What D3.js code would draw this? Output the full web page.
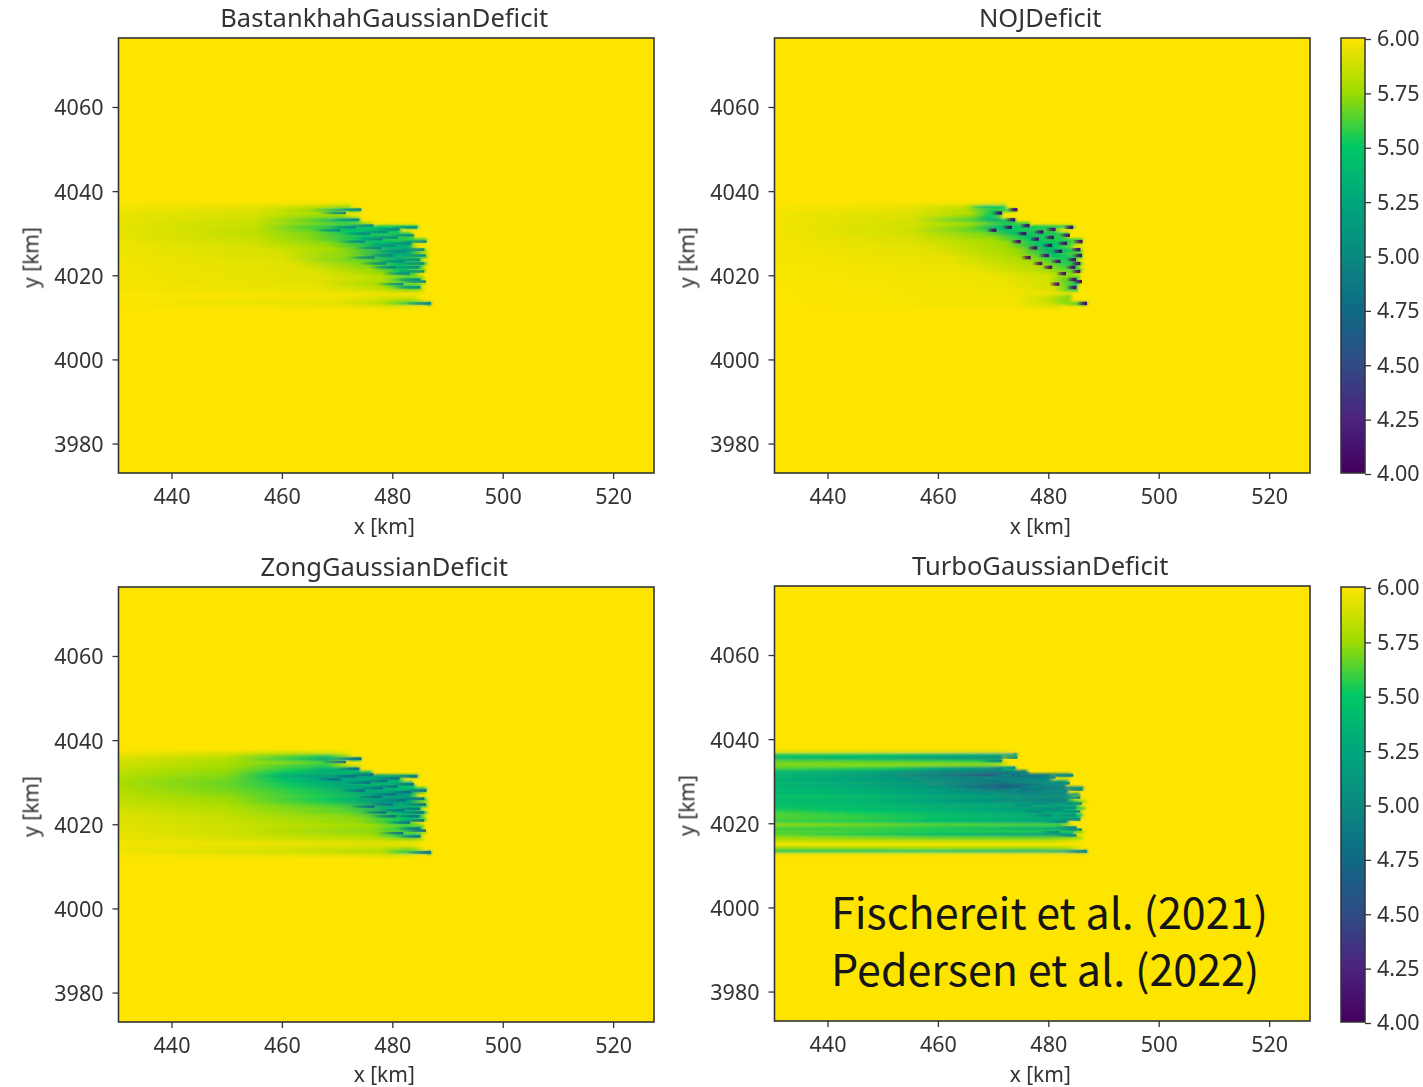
<!DOCTYPE html>
<html>
<head>
<meta charset="utf-8">
<script src="https://d3js.org/d3.v7.min.js"></script>
<style>
  html, body { margin: 0; padding: 0; background: #fff; }
  svg { display: block; }
</style>
</head>
<body>
<svg id="chart" width="1423" height="1087"></svg>
<script>
// ticks
const xTicks = [440, 460, 480, 500, 520];
const yTicks = [3980, 4000, 4020, 4040, 4060];
const colorbarTicks = [4, 4.25, 4.5, 4.75, 5, 5.25, 5.5, 5.75, 6];
const xLimits = [430.4, 527.4];
const yLimits = [3973, 4076.4];

// speed -> colour
const speedStops = [4, 4.25, 4.5, 4.75, 5, 5.25, 5.5, 5.75, 6];
const speedColors = ['#44005f', '#4b2480', '#2f4c85', '#0e6a85', '#0a8a80', '#00a67c', '#00c864', '#a0dc00', '#fde500'];

const panelTitles = ['BastankhahGaussianDeficit', 'NOJDeficit', 'ZongGaussianDeficit', 'TurboGaussianDeficit'];
const noteLines = ['Fischereit et al. (2021)', 'Pedersen et al. (2022)'];

// turbine tips shared by all four panels [x km, y km]
const turbines = [
  [474.4, 4035.6], [471.6, 4034.8], [474, 4033.2], [476.6, 4031.8], [484.5, 4031.4],
  [481.3, 4030.9], [473.4, 4031.4], [470.6, 4030.7], [479.1, 4030.3], [476, 4029.9], [483.9, 4029.5],
  [481, 4029], [478.3, 4028.6], [486.2, 4028], [475, 4028], [483.4, 4027.6], [480.7, 4027.1],
  [478, 4026.5], [482.5, 4025.7], [485.8, 4026.1], [480.1, 4024.7], [486.1, 4024.7], [476.8, 4024.2],
  [485, 4023.7], [482.2, 4023.3], [478.9, 4022.8], [485.8, 4022.8], [484.9, 4021.9], [480.7, 4021.9],
  [485.8, 4020.9], [483.2, 4020.4], [485.1, 4019], [486.1, 4018.5], [482, 4017.9], [485.1, 4017.1],
  [487, 4013.3]
];
// speed at the tip and length of the dark streak per panel
const tipSpeeds = [5, 4.05, 4.8, 5];
const tipLengths = [5, 1.8, 4.5, 4];

// wake rows: [y km, x km, speed, x km, speed, ...]
const bastankhahRows = [
  [4037.1, 430, 5.99, 460, 5.98, 472, 5.95, 474, 6],
  [4036.3, 430, 5.97, 455, 5.94, 466, 5.85, 472, 5.75, 473, 6],
  [4035.5, 430, 5.96, 455, 5.92, 465, 5.75, 470, 5.4, 474, 5.6, 474.6, 6],
  [4034.7, 430, 5.95, 455, 5.9, 465, 5.8, 470, 5.75, 472, 6],
  [4033.9, 430, 5.95, 455, 5.88, 466, 5.72, 471, 5.7, 474, 5.9, 474.5, 6],
  [4033.1, 430, 5.95, 455, 5.87, 465, 5.65, 470, 5.35, 474, 5.5, 474.5, 6],
  [4032.3, 430, 5.94, 455, 5.85, 465, 5.7, 472, 5.6, 476, 5.8, 477, 6],
  [4031.5, 430, 5.94, 455, 5.84, 465, 5.6, 472, 5.4, 478, 5.5, 484.5, 5.5, 485, 6],
  [4030.7, 430, 5.94, 455, 5.83, 465, 5.65, 472, 5.45, 481, 5.45, 482, 6],
  [4029.9, 430, 5.94, 455, 5.83, 465, 5.7, 473, 5.45, 483, 5.55, 484, 6],
  [4029.1, 430, 5.95, 455, 5.84, 465, 5.7, 475, 5.4, 483.5, 5.6, 484.5, 6],
  [4028.4, 430, 5.95, 455, 5.86, 465, 5.72, 475, 5.45, 486, 5.6, 486.5, 6],
  [4027.6, 430, 5.96, 455, 5.88, 468, 5.72, 477, 5.4, 483.5, 5.4, 484, 5.9, 486, 5.95, 487, 6],
  [4026.8, 430, 5.96, 455, 5.89, 468, 5.75, 478, 5.4, 483, 5.3, 484, 5.8, 485, 6],
  [4026, 430, 5.96, 458, 5.9, 470, 5.75, 480, 5.3, 483, 5.25, 486, 5.7, 486.5, 6],
  [4025.2, 430, 5.96, 460, 5.9, 472, 5.7, 480, 5.25, 483, 5.3, 486, 5.85, 487, 6],
  [4024.4, 430, 5.96, 460, 5.9, 472, 5.7, 480, 5.3, 486, 5.6, 486.7, 6],
  [4023.6, 430, 5.97, 460, 5.92, 474, 5.65, 481, 5.35, 485, 5.55, 485.7, 6],
  [4022.8, 430, 5.97, 462, 5.92, 475, 5.7, 481, 5.4, 486, 5.6, 486.7, 6],
  [4022, 430, 5.97, 462, 5.93, 476, 5.7, 481, 5.4, 485.3, 5.55, 486, 6],
  [4021.2, 430, 5.97, 465, 5.92, 476, 5.75, 482, 5.4, 484, 5.6, 486, 5.75, 486.5, 6],
  [4020.4, 430, 5.97, 466, 5.92, 478, 5.75, 482, 5.45, 484, 5.6, 485, 5.95, 486, 6],
  [4019.6, 430, 5.98, 468, 5.92, 478, 5.8, 483, 5.65, 485.5, 5.75, 486, 6],
  [4018.8, 430, 5.97, 466, 5.93, 478, 5.8, 483, 5.5, 485.3, 5.6, 486, 6],
  [4018, 430, 5.98, 466, 5.93, 478, 5.75, 484, 5.7, 486, 5.85, 486.5, 6],
  [4017.3, 430, 5.98, 466, 5.94, 478, 5.8, 482, 5.5, 485, 5.55, 485.5, 6],
  [4016.5, 430, 5.98, 466, 5.95, 478, 5.85, 484, 5.7, 485.7, 5.85, 486, 6],
  [4015.7, 430, 5.99, 470, 5.97, 480, 5.95, 485, 5.97, 486, 6],
  [4014.9, 430, 6, 470, 5.97, 480, 5.92, 484, 5.92, 485, 6],
  [4014.1, 430, 5.99, 470, 5.95, 478, 5.85, 483, 5.75, 485, 5.85, 486, 6],
  [4013.3, 430, 5.99, 470, 5.93, 478, 5.82, 482, 5.6, 487, 5.35, 487.3, 6],
  [4012.5, 430, 6, 470, 5.97, 480, 5.93, 484, 5.97, 486, 6]
];
const nojRows = [
  [4037.1, 430, 6, 460, 5.98, 467, 5.95, 472, 5.9, 473, 6],
  [4036.3, 430, 5.99, 455, 5.95, 465, 5.85, 468, 5.5, 472, 5.5, 472.6, 6],
  [4035.5, 430, 5.98, 455, 5.93, 465, 5.8, 470, 5.55, 474, 5.6, 474.5, 6],
  [4034.7, 430, 5.97, 455, 5.92, 466, 5.8, 470, 5.5, 471.5, 5.3, 472, 6],
  [4033.9, 430, 5.97, 455, 5.9, 466, 5.7, 469, 5.5, 471, 5.6, 472, 6],
  [4033.1, 430, 5.97, 455, 5.9, 466, 5.6, 470, 5.3, 474, 5.55, 474.5, 6],
  [4032.3, 430, 5.97, 455, 5.88, 466, 5.75, 472, 5.55, 476.5, 5.6, 477, 6],
  [4031.5, 430, 5.97, 455, 5.88, 465, 5.7, 470, 5.4, 476, 5.5, 484.5, 5.55, 485, 6],
  [4030.7, 430, 5.97, 455, 5.87, 466, 5.65, 472, 5.45, 481, 5.6, 482, 5.85, 483, 6],
  [4029.9, 430, 5.97, 455, 5.88, 468, 5.7, 474, 5.4, 483.5, 5.55, 484, 6],
  [4029.1, 430, 5.97, 455, 5.9, 470, 5.7, 476, 5.45, 482, 5.55, 483.5, 5.7, 484, 6],
  [4028.4, 430, 5.98, 455, 5.9, 470, 5.75, 477, 5.5, 486, 5.6, 486.5, 6],
  [4027.6, 430, 5.98, 455, 5.92, 472, 5.75, 478, 5.45, 483, 5.5, 486, 5.8, 486.5, 6],
  [4026.8, 430, 5.98, 458, 5.92, 472, 5.75, 479, 5.4, 481, 5.5, 484, 5.65, 485, 6],
  [4026, 430, 5.98, 458, 5.93, 474, 5.75, 480, 5.35, 483, 5.45, 486, 5.6, 486.3, 6],
  [4025.2, 430, 5.98, 460, 5.93, 474, 5.75, 481, 5.4, 484, 5.6, 486, 5.65, 486.5, 6],
  [4024.4, 430, 5.98, 462, 5.94, 476, 5.75, 481, 5.45, 486, 5.55, 486.5, 6],
  [4023.6, 430, 5.98, 462, 5.94, 476, 5.78, 482, 5.55, 485, 5.55, 485.5, 6],
  [4022.8, 430, 5.99, 462, 5.95, 478, 5.78, 483, 5.55, 486, 5.6, 486.5, 6],
  [4022, 430, 5.99, 465, 5.95, 478, 5.8, 483, 5.6, 485.3, 5.55, 486, 6],
  [4021.2, 430, 5.99, 465, 5.95, 478, 5.82, 484, 5.65, 486, 5.65, 486.5, 6],
  [4020.4, 430, 5.99, 468, 5.96, 480, 5.85, 484, 5.7, 486, 6],
  [4019.6, 430, 5.99, 470, 5.96, 480, 5.88, 483, 5.7, 485.5, 5.65, 486, 6],
  [4018.8, 430, 5.99, 470, 5.96, 480, 5.88, 483, 5.65, 485.3, 5.6, 486, 6],
  [4018, 430, 6, 472, 5.96, 481, 5.88, 484, 5.6, 485.5, 5.5, 485.8, 6],
  [4017.3, 430, 6, 472, 5.96, 481, 5.88, 484, 5.6, 485, 5.45, 485.5, 6],
  [4016.5, 430, 6, 474, 5.96, 481, 5.9, 484, 5.6, 485.3, 5.55, 485.5, 6],
  [4015.7, 430, 6, 474, 5.97, 480, 5.95, 484, 5.92, 485, 6],
  [4014.9, 430, 6, 474, 5.97, 480, 5.88, 484, 5.7, 484.5, 6],
  [4014.1, 430, 6, 474, 5.97, 480, 5.85, 483, 5.7, 484, 5.75, 484.5, 6],
  [4013.3, 430, 6, 474, 5.97, 480, 5.88, 484, 5.7, 487, 5.4, 487.3, 6],
  [4012.5, 430, 6, 474, 5.98, 480, 5.93, 482, 5.93, 483, 6]
];
const zongRows = [
  [4037.1, 430, 5.98, 450, 5.93, 462, 5.88, 470, 5.92, 473, 6],
  [4036.3, 430, 5.93, 450, 5.85, 462, 5.65, 468, 5.55, 472, 5.8, 473, 6],
  [4035.5, 430, 5.9, 450, 5.8, 462, 5.55, 467, 5.3, 471, 5.2, 474.4, 5.4, 474.6, 6],
  [4034.7, 430, 5.88, 450, 5.78, 462, 5.7, 468, 5.6, 471, 5.85, 472, 6],
  [4033.9, 430, 5.87, 450, 5.76, 462, 5.6, 468, 5.55, 472, 5.8, 474, 5.9, 474.5, 6],
  [4033.1, 430, 5.85, 450, 5.74, 462, 5.55, 468, 5.3, 474, 5.3, 474.4, 6],
  [4032.3, 430, 5.82, 450, 5.72, 460, 5.5, 468, 5.35, 476, 5.4, 476.8, 6],
  [4031.5, 430, 5.8, 450, 5.7, 458, 5.4, 464, 5.2, 472, 5.1, 476, 5.15, 484.5, 5.4, 485, 6],
  [4030.7, 430, 5.78, 450, 5.68, 460, 5.45, 468, 5.25, 481, 5.3, 482, 5.8, 483, 6],
  [4029.9, 430, 5.78, 450, 5.66, 462, 5.45, 470, 5.25, 483.5, 5.4, 484, 6],
  [4029.1, 430, 5.79, 450, 5.66, 462, 5.5, 472, 5.2, 484, 5.5, 484.5, 6],
  [4028.4, 430, 5.8, 450, 5.68, 462, 5.55, 474, 5.25, 486, 5.45, 486.5, 6],
  [4027.6, 430, 5.8, 450, 5.7, 464, 5.55, 476, 5.25, 483.5, 5.25, 486, 5.75, 486.5, 6],
  [4026.8, 430, 5.82, 450, 5.72, 466, 5.55, 478, 5.2, 483, 5.15, 484, 5.6, 485, 6],
  [4026, 430, 5.83, 450, 5.74, 468, 5.5, 478, 5.15, 483, 5.15, 486, 5.55, 486.5, 6],
  [4025.2, 430, 5.84, 450, 5.76, 468, 5.55, 478, 5.1, 483, 5.25, 486, 5.75, 487, 6],
  [4024.4, 430, 5.86, 450, 5.78, 470, 5.6, 480, 5.25, 486, 5.5, 486.7, 6],
  [4023.6, 430, 5.88, 450, 5.8, 470, 5.65, 480, 5.25, 485, 5.5, 485.7, 6],
  [4022.8, 430, 5.9, 450, 5.82, 472, 5.65, 482, 5.3, 486, 5.55, 486.7, 6],
  [4022, 430, 5.91, 450, 5.84, 472, 5.7, 482, 5.35, 485.3, 5.5, 486, 6],
  [4021.2, 430, 5.92, 450, 5.85, 474, 5.72, 482, 5.5, 484, 5.45, 486, 5.65, 486.5, 6],
  [4020.4, 430, 5.92, 450, 5.86, 474, 5.73, 482, 5.5, 485, 5.9, 486, 6],
  [4019.6, 430, 5.93, 450, 5.87, 476, 5.75, 483, 5.6, 485.5, 5.65, 486, 6],
  [4018.8, 430, 5.93, 450, 5.87, 476, 5.72, 483, 5.5, 485.3, 5.55, 486, 6],
  [4018, 430, 5.94, 450, 5.88, 476, 5.72, 484, 5.65, 486, 5.8, 486.5, 6],
  [4017.3, 430, 5.94, 450, 5.89, 476, 5.78, 482, 5.5, 485, 5.45, 485.5, 6],
  [4016.5, 430, 5.95, 450, 5.9, 478, 5.8, 484, 5.7, 485.7, 5.85, 486, 6],
  [4015.7, 430, 5.97, 460, 5.95, 480, 5.92, 485, 5.97, 486, 6],
  [4014.9, 430, 5.97, 460, 5.93, 480, 5.9, 484, 5.92, 485, 6],
  [4014.1, 430, 5.96, 460, 5.9, 478, 5.82, 483, 5.7, 485, 5.85, 486, 6],
  [4013.3, 430, 5.96, 460, 5.89, 478, 5.8, 482, 5.55, 487, 5.3, 487.3, 6],
  [4012.5, 430, 5.99, 470, 5.95, 480, 5.92, 484, 5.97, 486, 6]
];
const turboRows = [
  [4037.1, 430, 5.93, 460, 5.93, 470, 5.92, 473, 5.97, 473.5, 6],
  [4036.3, 430, 5.55, 450, 5.5, 465, 5.35, 472, 5.3, 474.4, 5.15, 474.6, 6],
  [4035.5, 430, 5.4, 450, 5.3, 460, 5.15, 471.5, 5, 472, 6],
  [4034.7, 430, 5.65, 460, 5.6, 471, 5.55, 472, 5.9, 473, 6],
  [4033.9, 430, 5.7, 460, 5.72, 470, 5.72, 473, 5.95, 474, 6],
  [4033.1, 430, 5.62, 450, 5.55, 460, 5.3, 471.5, 5, 472, 5.5, 474, 5.5, 474.4, 6],
  [4032.3, 430, 5.4, 445, 5.3, 460, 5, 476, 4.9, 476.5, 6],
  [4031.5, 430, 5.35, 445, 5.2, 460, 4.9, 470, 4.55, 474, 4.7, 484, 5, 484.7, 6],
  [4030.7, 430, 5.35, 445, 5.22, 460, 5, 480, 4.9, 481.2, 6],
  [4029.9, 430, 5.35, 445, 5.25, 460, 5.05, 470, 4.85, 482, 5.15, 483.5, 5.2, 484, 6],
  [4029.1, 430, 5.35, 445, 5.25, 460, 5.05, 472, 4.65, 478, 4.8, 480, 5, 483, 5, 483.4, 6],
  [4028.4, 430, 5.38, 445, 5.3, 460, 5.12, 472, 4.7, 484, 5, 486.3, 5, 486.6, 6],
  [4027.6, 430, 5.4, 445, 5.33, 460, 5.18, 476, 4.9, 483, 5.05, 484, 6],
  [4026.8, 430, 5.42, 445, 5.35, 460, 5.2, 478, 5, 483, 5, 485.5, 5.15, 486, 6],
  [4026, 430, 5.45, 445, 5.4, 460, 5.25, 480, 5, 483, 5, 484, 5.6, 485, 6],
  [4025.2, 430, 5.42, 445, 5.38, 460, 5.2, 480, 4.95, 483, 4.95, 485, 5.6, 487, 5.9, 487.5, 6],
  [4024.4, 430, 5.42, 445, 5.38, 460, 5.3, 480, 5.25, 485, 5.2, 486, 6],
  [4023.6, 430, 5.48, 445, 5.42, 460, 5.3, 482, 5.1, 484, 5.5, 486.3, 5.6, 487, 6],
  [4022.8, 430, 5.58, 445, 5.48, 460, 5.38, 480, 5.2, 485, 5.25, 485.5, 6],
  [4022, 430, 5.62, 445, 5.55, 460, 5.42, 480, 5.25, 484, 5.4, 486, 5.5, 486.5, 6],
  [4021.2, 430, 5.62, 445, 5.58, 460, 5.45, 482, 5.25, 485.7, 5.25, 486, 6],
  [4020.4, 430, 5.58, 445, 5.55, 460, 5.42, 480, 5.25, 483.5, 5.2, 484, 6],
  [4019.6, 430, 5.72, 445, 5.68, 460, 5.62, 482, 5.6, 484, 5.9, 485, 6],
  [4018.8, 430, 5.58, 445, 5.58, 460, 5.52, 484, 5.25, 485, 5.2, 485.3, 6],
  [4018, 430, 5.64, 445, 5.6, 460, 5.55, 484, 5.55, 486, 5.75, 487, 6],
  [4017.3, 430, 5.64, 445, 5.55, 460, 5.4, 484.5, 5.1, 485, 6],
  [4016.5, 430, 5.75, 445, 5.7, 460, 5.65, 480, 5.65, 486, 5.75, 486.5, 6],
  [4015.7, 430, 5.85, 445, 5.85, 480, 5.85, 485, 5.95, 486, 6],
  [4014.9, 430, 5.98, 485, 5.98, 486, 6],
  [4014.1, 430, 5.72, 460, 5.75, 478, 5.72, 484, 5.8, 486, 6],
  [4013.3, 430, 5.55, 460, 5.5, 480, 5.4, 487, 5.1, 487.3, 6],
  [4012.5, 430, 5.97, 460, 5.97, 487, 5.97, 487.5, 6]
];

const panelRows = [bastankhahRows, nojRows, zongRows, turboRows];

// layout
const panelWidth = 535.5;
const panelHeight = 435;
const panelLeft = [118.5, 774.5, 118.5, 774.5];
const panelTop = [38, 38, 587, 586];
const titleTop = [18, 18, 567, 566];
const xLabelGap = [61, 61, 60, 61];
const colorbarTop = [38, 587];
const rowBlur = [0.95, 0.95, 0.95, 0.85];
const tipHeights = [0.6, 0.8, 0.6, 0.6];
const rowHeight = 0.8;
const labelFont = '"Noto Sans", sans-serif';

const svg = d3.select('#chart');
const defs = svg.append('defs');

function addBlur(id, amount) {
  defs.append('filter').attr('id', id)
    .attr('x', '-5%').attr('y', '-10%').attr('width', '110%').attr('height', '120%')
    .append('feGaussianBlur').attr('stdDeviation', amount);
}
rowBlur.forEach((b, i) => addBlur('rowSoft' + i, b));
addBlur('tipSoft', 0.55);
addBlur('softText', 0.3);

const speedColor = d3.scaleLinear().domain(speedStops).range(speedColors).clamp(true);

function styleAxis(axis) {
  axis.select('.domain').remove();
  axis.selectAll('line').attr('stroke', '#333').attr('stroke-width', 1.3);
  axis.selectAll('text')
    .attr('font-family', labelFont).attr('font-size', 21.5).attr('fill', '#333')
    .attr('filter', 'url(#softText)');
}

function drawPanel(index) {
  const left = panelLeft[index];
  const top = panelTop[index];
  const x = d3.scaleLinear().domain(xLimits).range([left, left + panelWidth]);
  const y = d3.scaleLinear().domain(yLimits).range([top + panelHeight, top]);

  const clipId = 'clip' + index;
  defs.append('clipPath').attr('id', clipId)
    .append('rect').attr('x', left).attr('y', top).attr('width', panelWidth).attr('height', panelHeight);

  const plot = svg.append('g');
  plot.append('rect')
    .attr('x', left).attr('y', top).attr('width', panelWidth).attr('height', panelHeight)
    .attr('fill', speedColor(6));

  // wake rows, each row is one gradient through the colour scale
  const rows = panelRows[index];
  rows.forEach((row, i) => {
    const stops = d3.range(1, row.length, 2).map(k => ({ x: row[k], v: row[k + 1] }));
    const x0 = stops[0].x;
    const x1 = stops[stops.length - 1].x;
    const grad = defs.append('linearGradient')
      .attr('id', `row${index}-${i}`)
      .attr('gradientUnits', 'userSpaceOnUse')
      .attr('x1', x(x0)).attr('x2', x(x1)).attr('y1', 0).attr('y2', 0);
    grad.selectAll('stop').data(stops).join('stop')
      .attr('offset', d => (d.x - x0) / (x1 - x0))
      .attr('stop-color', d => speedColor(d.v));
  });

  const clipped = plot.append('g').attr('clip-path', `url(#${clipId})`);
  clipped.append('g').attr('filter', `url(#rowSoft${index})`)
    .selectAll('rect').data(rows).join('rect')
    .attr('x', d => x(d[1]))
    .attr('width', d => x(d[d.length - 2]) - x(d[1]))
    .attr('y', d => y(d[0] + rowHeight / 2))
    .attr('height', y(0) - y(rowHeight) + 0.3)
    .attr('fill', (d, i) => `url(#row${index}-${i})`);

  // dark streak behind each turbine tip
  const tipColor = speedColor(tipSpeeds[index]);
  const tipLength = tipLengths[index];
  const tipHeight = tipHeights[index];
  turbines.forEach((t, i) => {
    const grad = defs.append('linearGradient')
      .attr('id', `tip${index}-${i}`)
      .attr('gradientUnits', 'userSpaceOnUse')
      .attr('x1', x(t[0] - tipLength)).attr('x2', x(t[0])).attr('y1', 0).attr('y2', 0);
    grad.append('stop').attr('offset', 0).attr('stop-color', tipColor).attr('stop-opacity', 0);
    grad.append('stop').attr('offset', 0.6).attr('stop-color', tipColor).attr('stop-opacity', 0.75);
    grad.append('stop').attr('offset', 1).attr('stop-color', tipColor).attr('stop-opacity', 1);
  });
  clipped.append('g').attr('filter', 'url(#tipSoft)')
    .selectAll('rect').data(turbines).join('rect')
    .attr('x', d => x(d[0] - tipLength))
    .attr('width', x(tipLength) - x(0))
    .attr('y', d => y(d[1] + tipHeight / 2))
    .attr('height', y(0) - y(tipHeight))
    .attr('fill', (d, i) => `url(#tip${index}-${i})`);

  // frame
  plot.append('rect')
    .attr('x', left).attr('y', top).attr('width', panelWidth).attr('height', panelHeight)
    .attr('fill', 'none').attr('stroke', '#333').attr('stroke-width', 1.6);

  // axes
  const xAxis = plot.append('g')
    .attr('transform', `translate(0,${top + panelHeight})`)
    .call(d3.axisBottom(x).tickValues(xTicks).tickSize(6).tickPadding(10).tickFormat(d3.format('d')));
  const yAxis = plot.append('g')
    .attr('transform', `translate(${left},0)`)
    .call(d3.axisLeft(y).tickValues(yTicks).tickSize(6).tickPadding(9).tickFormat(d3.format('d')));
  styleAxis(xAxis);
  styleAxis(yAxis);
  yAxis.selectAll('text').attr('y', 1);

  // labels
  plot.append('text')
    .attr('x', left + panelWidth / 2 - 2).attr('y', titleTop[index] + 9)
    .attr('text-anchor', 'middle')
    .attr('font-family', labelFont).attr('font-size', 25.5).attr('fill', '#333')
    .attr('filter', 'url(#softText)')
    .text(panelTitles[index]);
  plot.append('text')
    .attr('x', left + panelWidth / 2 - 2).attr('y', top + panelHeight + xLabelGap[index])
    .attr('text-anchor', 'middle')
    .attr('font-family', labelFont).attr('font-size', 21).attr('fill', '#333')
    .attr('filter', 'url(#softText)')
    .text('x [km]');
  plot.append('text')
    .attr('transform', `translate(${left - 80},${top + panelHeight / 2 + 2}) rotate(-90)`)
    .attr('text-anchor', 'middle')
    .attr('font-family', labelFont).attr('font-size', 21).attr('fill', '#333')
    .attr('filter', 'url(#softText)')
    .text('y [km]');
}

function drawColorbar(top) {
  const left = 1341;
  const width = 24;
  const scale = d3.scaleLinear().domain([4, 6]).range([top + panelHeight, top]);
  const levels = d3.range(4, 6, 0.01);
  const bar = svg.append('g');
  bar.selectAll('rect').data(levels).join('rect')
    .attr('x', left).attr('width', width)
    .attr('y', d => Math.floor(scale(d + 0.01)))
    .attr('height', 3)
    .attr('shape-rendering', 'crispEdges')
    .attr('fill', d => speedColor(d));
  bar.append('rect')
    .attr('x', left).attr('y', top).attr('width', width).attr('height', panelHeight)
    .attr('fill', 'none').attr('stroke', '#333').attr('stroke-width', 1.5);
  const axis = bar.append('g')
    .attr('transform', `translate(${left + width},1)`)
    .call(d3.axisRight(scale).tickValues(colorbarTicks).tickSize(6).tickPadding(6).tickFormat(d3.format('.2f')));
  styleAxis(axis);
}

panelTitles.forEach((t, i) => drawPanel(i));
colorbarTop.forEach(drawColorbar);

// citation note on the last panel
svg.append('g').selectAll('text').data(noteLines).join('text')
  .attr('x', 831)
  .attr('y', (d, i) => 929 + i * 57)
  .attr('font-family', '"Noto Sans CJK JP", "Noto Sans", sans-serif')
  .attr('font-size', 43)
  .attr('fill', '#151515')
  .text(d => d);
</script>
</body>
</html>
